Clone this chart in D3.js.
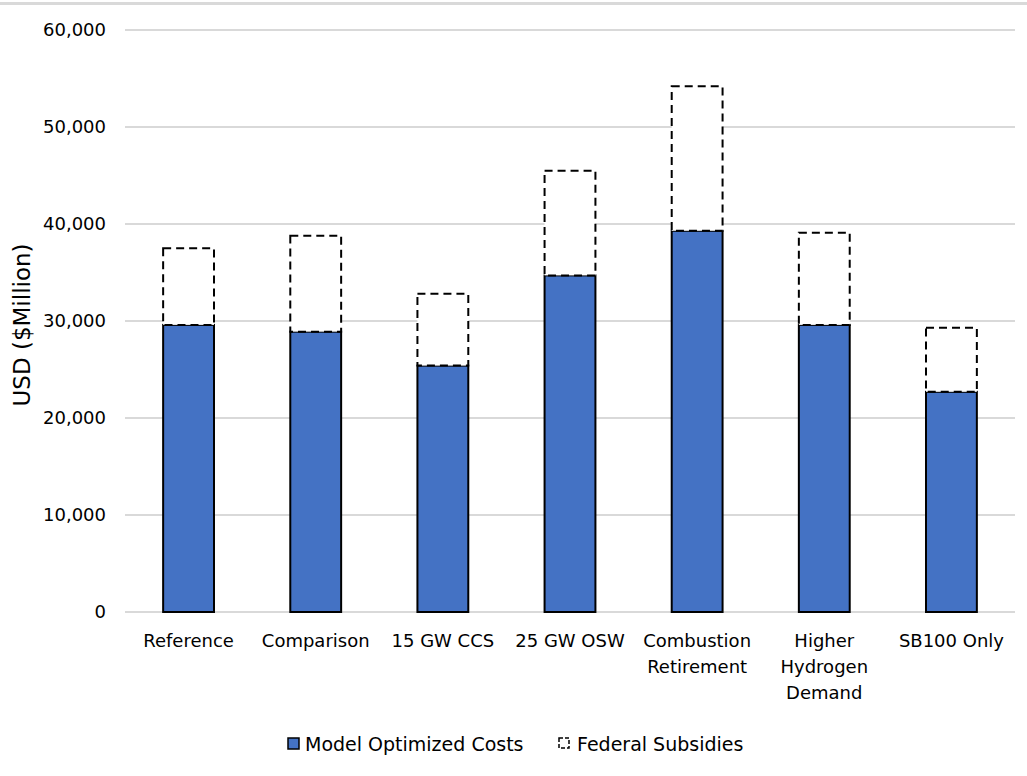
<!DOCTYPE html>
<html>
<head>
<meta charset="utf-8">
<script src="https://cdn.jsdelivr.net/npm/d3@7"></script>
<style>
  html, body { margin: 0; padding: 0; background: #fff; }
  svg { display: block; font-family: "DejaVu Sans", sans-serif; }
</style>
</head>
<body>
<svg id="chart" width="1027" height="776"></svg>
<script>
// Scenario cost breakdown (USD $Million)
const categories = [
  ["Reference"],
  ["Comparison"],
  ["15 GW CCS"],
  ["25 GW OSW"],
  ["Combustion", "Retirement"],
  ["Higher", "Hydrogen", "Demand"],
  ["SB100 Only"]
];
const modelCosts = [29600, 28900, 25400, 34700, 39300, 29600, 22700];
const subsidies  = [7900, 9900, 7400, 10800, 14900, 9500, 6600];
const yTicks = [0, 10000, 20000, 30000, 40000, 50000, 60000];
const seriesNames = ["Model Optimized Costs", "Federal Subsidies"];

const svg = d3.select("#chart");
const W = 1027, H = 776;
const plot = { left: 125, right: 1015, top: 30, bottom: 612 };

// top frame rule
svg.append("line")
  .attr("x1", 0).attr("x2", W).attr("y1", 3.5).attr("y2", 3.5)
  .attr("stroke", "#d9d9d9").attr("stroke-width", 3);

const keys = categories.map(c => c.join(" "));
const x = d3.scaleBand().domain(keys).range([plot.left, plot.right]).paddingInner(0.6).paddingOuter(0.3);
const y = d3.scaleLinear().domain([0, 60000]).range([plot.bottom, plot.top]);

// gridlines
svg.append("g")
  .selectAll("line").data(yTicks).join("line")
  .attr("x1", plot.left).attr("x2", plot.right)
  .attr("y1", d => y(d)).attr("y2", d => y(d))
  .attr("stroke", "#d9d9d9").attr("stroke-width", 2);

// y axis tick labels
const yAxis = d3.axisLeft(y).tickValues(yTicks).tickFormat(d3.format(",")).tickSize(0).tickPadding(19);
const gy = svg.append("g").attr("transform", `translate(${plot.left},0)`).call(yAxis);
gy.select(".domain").remove();
gy.selectAll("text").attr("font-size", 18).attr("fill", "#000").attr("font-family", "DejaVu Sans, sans-serif");

// y axis title
svg.append("text")
  .attr("transform", `translate(30,325) rotate(-90)`)
  .attr("text-anchor", "middle")
  .attr("font-size", 23)
  .attr("fill", "#000")
  .text("USD ($Million)");

// stacked bars
const bars = svg.append("g");
keys.forEach((k, i) => {
  const x0 = x(k), bw = x.bandwidth();
  bars.append("rect")
    .attr("x", x0).attr("width", bw)
    .attr("y", y(modelCosts[i])).attr("height", y(0) - y(modelCosts[i]))
    .attr("fill", "#4472C4").attr("stroke", "#000").attr("stroke-width", 2);
  const top = modelCosts[i] + subsidies[i];
  bars.append("rect")
    .attr("x", x0).attr("width", bw)
    .attr("y", y(top)).attr("height", y(modelCosts[i]) - y(top))
    .attr("fill", "#fff").attr("stroke", "#000").attr("stroke-width", 2)
    .attr("stroke-dasharray", "8,5");
});

// category labels
const xl = svg.append("g");
categories.forEach((lines, i) => {
  const cx = x(keys[i]) + x.bandwidth() / 2;
  const t = xl.append("text").attr("text-anchor", "middle").attr("font-size", 18).attr("fill", "#000");
  lines.forEach((ln, j) => {
    t.append("tspan").attr("x", cx).attr("y", 647 + j * 26).text(ln);
  });
});

// legend
const lg = svg.append("g");
lg.append("rect").attr("x", 288).attr("y", 738).attr("width", 11).attr("height", 11)
  .attr("fill", "#4472C4").attr("stroke", "#000").attr("stroke-width", 1.5);
lg.append("text").attr("x", 305).attr("y", 751).attr("font-size", 19).attr("fill", "#000").text(seriesNames[0]);
lg.append("rect").attr("x", 559).attr("y", 738).attr("width", 10).attr("height", 10)
  .attr("fill", "#fff").attr("stroke", "#000").attr("stroke-width", 1.5).attr("stroke-dasharray", "4,2");
lg.append("text").attr("x", 577).attr("y", 751).attr("font-size", 19).attr("fill", "#000").text(seriesNames[1]);
</script>
</body>
</html>
